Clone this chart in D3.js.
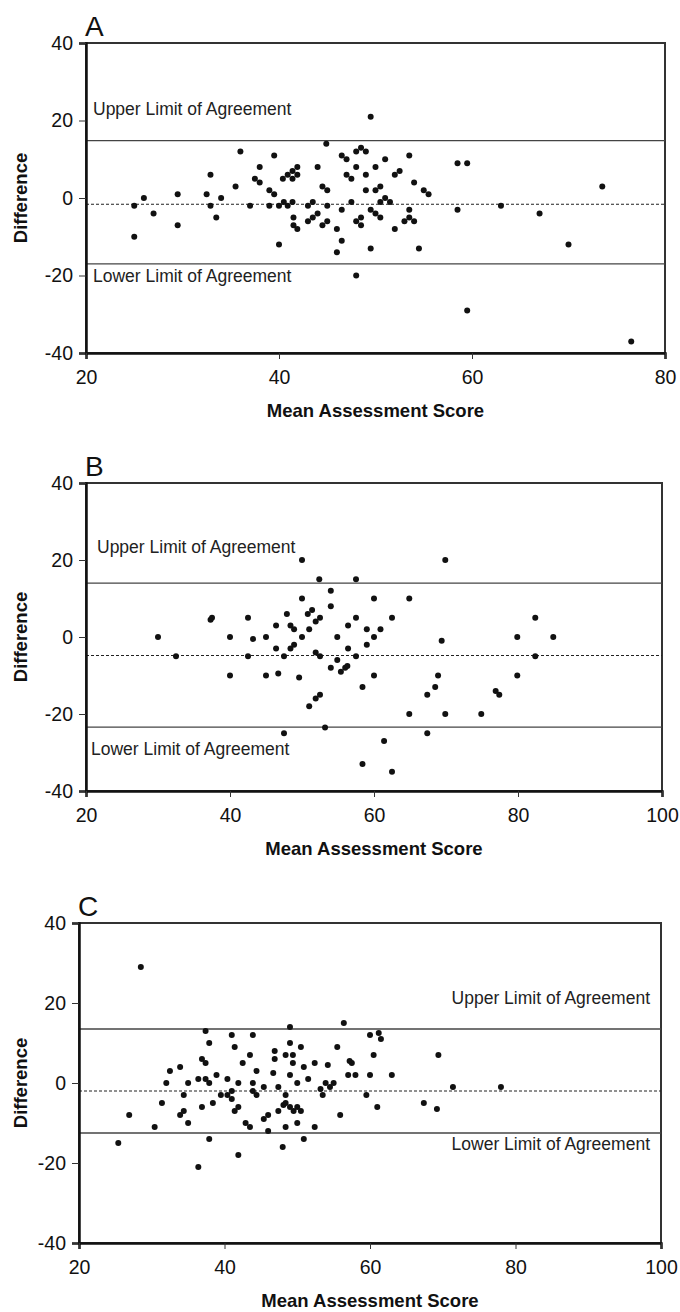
<!DOCTYPE html>
<html><head><meta charset="utf-8">
<script src="https://cdn.jsdelivr.net/npm/d3@7"></script>
<style>
body{margin:0;background:#fff}
svg{display:block}
text{font-family:"Liberation Sans",Arial,Helvetica,sans-serif}
</style>
</head><body>
<svg id="chart" width="680" height="1312"></svg>
<script>
// ---------- DATA ----------
const yTicks = [-40, -20, 0, 20, 40];
const xTicksA = [20, 40, 60, 80];
const xTicksBC = [20, 40, 60, 80, 100];
const xTitle = "Mean Assessment Score";
const yTitle = "Difference";
const upperLabel = "Upper Limit of Agreement";
const lowerLabel = "Lower Limit of Agreement";

// [upper limit, mean difference, lower limit]
const limitsA = [14.8, -1.6, -17.0];
const limitsB = [14.0, -4.8, -23.4];
const limitsC = [13.5, -2.0, -12.5];

// [mean assessment score, difference]
const pointsA = [
[25.0,-2],[25.0,-10],[26.0,0],[27.0,-4],[29.5,1],[29.5,-7],[32.5,1],[32.9,6],[32.9,-2],[33.5,-5],
[34.0,0],[35.5,3],[36.0,12],[37.0,-2],[37.5,5],[38.0,8],[38.0,4],[39.0,2],[39.5,11],[39.5,1],
[39.0,-2],[40.0,-2],[40.0,-12],[40.5,-1],[40.4,5],[40.9,-2],[40.9,6],[41.4,-1],[41.4,7],[41.4,5],
[41.5,-5],[41.5,-7],[41.9,-8],[41.9,8],[41.9,6],
[43.0,-2],[43.5,-1],[43.0,-6],[43.5,-5],[44.0,-4],[44.0,8],[44.5,3],[45.0,2],[45.0,-2],[44.5,-7],
[45.0,-6],[44.9,14],[46.0,-8],[46.5,-3],[46.5,-11],[46.0,-14],[46.5,11],[47.0,10],[47.0,6],[47.5,5],
[47.5,-1],[48.0,12],[48.5,13],[49.0,12],[48.0,8],[49.0,6],[48.0,-6],[48.5,-5],[48.5,-7],[49.0,2],
[49.5,-3],[49.5,-13],[49.5,21],[50.0,8],[50.0,2],[50.0,-4],[50.5,3],[50.5,-5],[50.5,-1],[51.0,0],
[51.5,-1],[51.0,10],[52.0,6],[52.5,7],[52.0,-8],[53.5,11],[54.0,4],[53.5,-3],[53.0,-6],[53.5,-5],
[54.0,-6],[54.5,-13],[55.0,2],[55.5,1],[48.0,-20],
[58.5,9],[59.5,9],[58.5,-3],[63.0,-2],[67.0,-4],[70.0,-12],[73.5,3],[59.5,-29],[76.5,-37]
];
const pointsB = [
[30,0],[32.5,-5],[37.3,4.5],[37.5,5],[40,0],[40,-10],[42.5,5],[42.5,-5],[43.2,-0.5],[45,0],
[45,-10],[46.4,3],[46.4,-3],[46.7,-9.5],[47.5,-5],[47.5,-25],[47.9,6],[48.4,3],[48.9,2],[48.4,-3],
[48.9,-2],[49.6,-10.5],[50,20],[50,10],[50,0],[50.8,6],[51.4,7],[51,2],[51.9,4],[52.5,5],
[51.9,-4],[52.5,-5],[51,-18],[51.9,-16],[52.5,-15],[52.4,15],[53.2,-23.5],[54,12],[54,8],[54,-8],
[54.9,0],[54.9,-6],[55.4,-9],[56,-8],[56.3,-7.5],[56.4,3],[56.4,-3],[57.5,15],[57.5,5],[57.5,-5],
[58.4,-13],[58.4,-33],[59,2],[59,-2],[60,10],[60,0],[60,-10],[60.9,2],[61.4,-27],[62.5,5],
[62.5,-35],[64.9,10],[64.9,-20],[67.4,-15],[67.4,-25],[68.5,-13],[68.9,-10],[69.4,-1],[69.9,20],[69.9,-20],
[74.9,-20],[76.9,-14],[77.4,-15],[79.9,-10],[79.9,0],[82.4,5],[82.4,-5],[84.9,0]
];
const pointsC = [
[25.4,-15],[26.9,-8],[28.5,29],[30.4,-11],[31.4,-5],[32,0],[32.5,3],[33.9,4],[34.4,-3],[34.4,-7],
[33.9,-8],[35,0],[35,-10],[36.4,-21],[36.4,1],[36.9,6],[37.4,5],[37.4,13],[37.9,10],[37.4,1],
[37.9,0],[36.9,-6],[37.9,-14],[38.4,-5],[38.9,2],[39.5,-3],[40.4,1],[40.4,-3],[41,-2],[41,-4],
[41,12],[41.4,9],[41.4,-7],[41.9,-6],[41.9,0],[41.9,-18],[42.5,5],[42.9,-10],[43.5,-11],[43.5,7],
[43.9,12],[43.9,0],[43.9,-2],[44.4,-3],[44.4,3],[45.4,-1],[45.4,-9],[46,-8],[46,-12],[46.7,2.5],
[46.9,8],[46.9,6],[47.4,-1],[47.4,-7],[48,-16],[48.4,7],[49.4,7],[49.4,5],[49,14],[49,10],
[50.5,9],[50.9,4],[52.4,5],[54.2,4.5],[55.5,9],[49,2],[51.5,1],[50,0],[48.4,-3],[48.1,-5.5],
[48.4,-5],[49,-6],[49.5,-7],[50,-6],[50.5,-7],[48.4,-11],[50,-10],[52.4,-11],[50.9,-14],[53.2,-1.5],
[53.9,0],[54.5,-1],[55,0],[53.5,-3],[55.9,-8],[56.4,15],[57.2,5.5],[57.5,5],[57,2],[58,2],
[60,2],[63,2],[60,12],[61.2,12.5],[61.5,11],[60.5,7],[59.5,-3],[61,-6],[67.4,-5],[69.2,-6.5],
[69.4,7],[71.4,-1],[78,-1]
];

// ---------- LAYOUT ----------
const panels = [
  {letter:"A", pts:pointsA, lim:limitsA, xDom:[20,80], xTicks:xTicksA,
   box:{l:86,r:665,t:43,b:353}, up:{x:93,y:115,a:"start"}, lo:{x:93,y:282,a:"start"}},
  {letter:"B", pts:pointsB, lim:limitsB, xDom:[20,100], xTicks:xTicksBC,
   box:{l:86,r:662,t:483,b:791}, up:{x:97,y:553,a:"start"}, lo:{x:91,y:755,a:"start"}},
  {letter:"C", pts:pointsC, lim:limitsC, xDom:[20,100], xTicks:xTicksBC,
   box:{l:79,r:661,t:923,b:1243}, up:{x:650,y:1004,a:"end"}, lo:{x:650,y:1150,a:"end"}}
];

const fmt = d => String(d);   // plain hyphen minus as in the original
const svg = d3.select("#chart");

panels.forEach(p => {
  const b = p.box;
  const x = d3.scaleLinear().domain(p.xDom).range([b.l, b.r]);
  const y = d3.scaleLinear().domain([-40, 40]).range([b.b, b.t]);
  const g = svg.append("g");

  // frame
  g.append("rect").attr("x", b.l).attr("y", b.t)
    .attr("width", b.r - b.l).attr("height", b.b - b.t)
    .attr("fill", "none").attr("stroke", "#333").attr("stroke-width", 2);

  // limit lines
  [p.lim[0], p.lim[2]].forEach(v => {
    g.append("line").attr("x1", b.l).attr("x2", b.r)
      .attr("y1", y(v)).attr("y2", y(v))
      .attr("stroke", "#444").attr("stroke-width", 1.3);
  });
  g.append("line").attr("x1", b.l).attr("x2", b.r)
    .attr("y1", y(p.lim[1])).attr("y2", y(p.lim[1]))
    .attr("stroke", "#222").attr("stroke-width", 1.1)
    .attr("stroke-dasharray", "3,2");

  // points
  g.append("g").selectAll("circle").data(p.pts).join("circle")
    .attr("cx", d => x(d[0])).attr("cy", d => y(d[1]))
    .attr("r", 3).attr("fill", "#111");

  // axes
  const ya = g.append("g").attr("transform", `translate(${b.l},0)`)
    .call(d3.axisLeft(y).tickValues(yTicks).tickSize(7).tickPadding(6).tickFormat(fmt));
  const xa = g.append("g").attr("transform", `translate(0,${b.b})`)
    .call(d3.axisBottom(x).tickValues(p.xTicks).tickSize(6).tickPadding(11).tickFormat(fmt));
  [ya, xa].forEach(a => {
    a.select(".domain").attr("stroke", "#111").attr("stroke-width", 2.5);
    a.selectAll(".tick line").attr("stroke", "#333").attr("stroke-width", 1);
    a.selectAll(".tick text").attr("font-size", 19.5).attr("fill", "#111")
      .attr("font-family", '"Liberation Sans",Arial,sans-serif');
  });

  // limit labels
  g.append("text").attr("x", p.up.x).attr("y", p.up.y).attr("text-anchor", p.up.a)
    .attr("font-size", 17.5).attr("fill", "#222").text(upperLabel);
  g.append("text").attr("x", p.lo.x).attr("y", p.lo.y).attr("text-anchor", p.lo.a)
    .attr("font-size", 17.5).attr("fill", "#222").text(lowerLabel);

  // panel letter
  g.append("text").attr("x", b.l - 1).attr("y", b.t - 7)
    .attr("font-size", 28).attr("fill", "#111").text(p.letter);

  // axis titles
  g.append("text").attr("x", (b.l + b.r) / 2).attr("y", b.b + 64)
    .attr("text-anchor", "middle").attr("font-size", 18.5).attr("font-weight", "bold")
    .attr("fill", "#111").text(xTitle);
  g.append("text")
    .attr("transform", `translate(${27},${(b.t + b.b) / 2}) rotate(-90)`)
    .attr("text-anchor", "middle").attr("font-size", 18.5).attr("font-weight", "bold")
    .attr("fill", "#111").text(yTitle);
});
</script>
</body></html>
